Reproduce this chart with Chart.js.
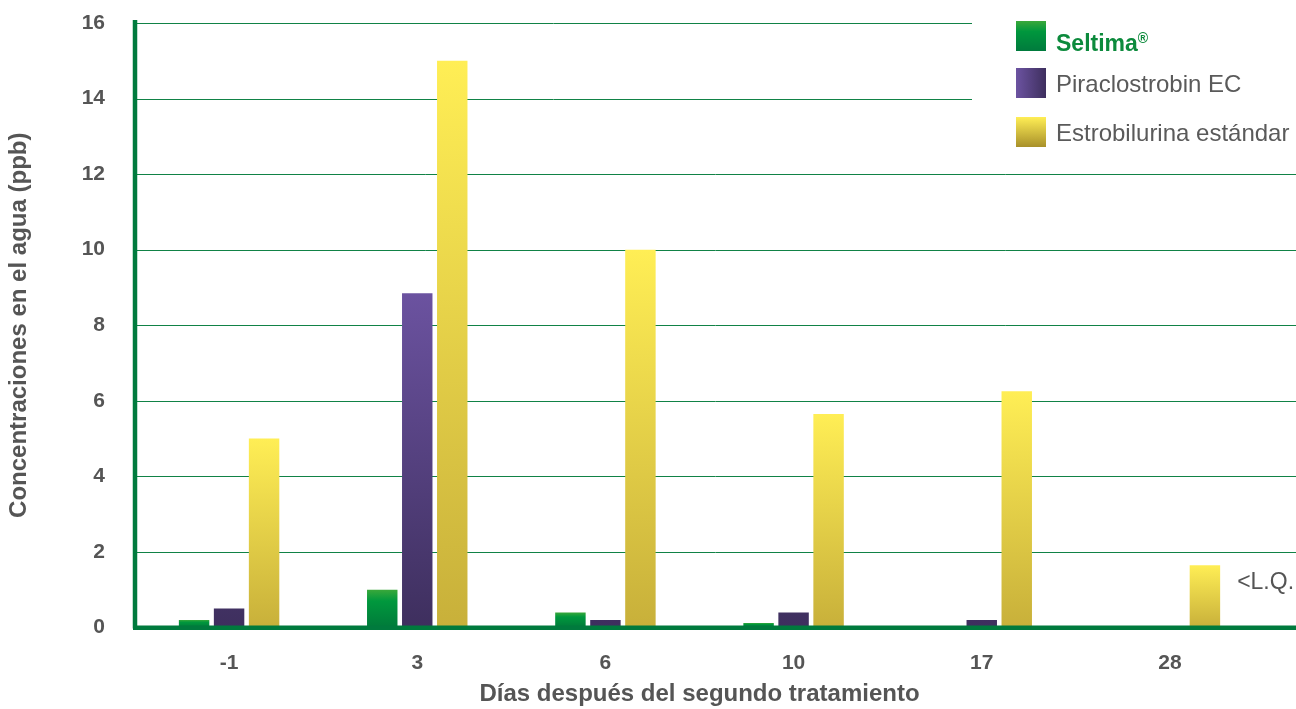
<!DOCTYPE html>
<html lang="es">
<head>
<meta charset="utf-8">
<title>Concentraciones en el agua</title>
<script src="https://cdn.jsdelivr.net/npm/chart.js@4"></script>
<style>
  html, body { margin: 0; padding: 0; background: #ffffff; }
  #wrap { position: relative; width: 1296px; height: 709px; overflow: hidden; }
  #wrap canvas { position: absolute; left: 0; top: 0; }
  .legend { position: absolute; left: 1016px; top: 21px; font-family: "Liberation Sans", Arial, sans-serif; }
  .legend .item { position: absolute; left: 0; white-space: nowrap; height: 31px; }
  .legend .sw { position: absolute; left: 0; top: 0; width: 30px; height: 30px; }
  .legend .tx { position: absolute; left: 40px; top: 1px; font-size: 24px; line-height: 30px; color: #5a5a5a; }
  .legend .tx.brand { color: #0c8a3c; font-weight: bold; font-size: 23px; }
  .legend .tx sup { font-size: 14px; position: relative; top: 1px; }
</style>
</head>
<body>
<div id="wrap">
  <canvas id="chart" width="1296" height="709"></canvas>
  <div class="legend">
    <div class="item" style="top:0px"><div class="sw" style="background:linear-gradient(to bottom,#3aa83a 0%,#00973d 35%,#007a3d 100%)"></div><div class="tx brand">Seltima<sup>®</sup></div></div>
    <div class="item" style="top:47px"><div class="sw" style="background:linear-gradient(to right,#6c53a1,#3e2f5e)"></div><div class="tx">Piraclostrobin EC</div></div>
    <div class="item" style="top:96px"><div class="sw" style="background:linear-gradient(to bottom,#ffee55,#a8902a)"></div><div class="tx">Estrobilurina estándar</div></div>
  </div>
</div>
<script>
// Días después del segundo tratamiento
const dias = ['-1', '3', '6', '10', '17', '28'];

// Concentraciones en el agua (ppb)
const seltima = [0.2, 1.0, 0.4, 0.12, null, null];
const piraclostrobin = [0.5, 8.85, 0.2, 0.4, 0.2, null];
const estrobilurina = [5.0, 15.0, 10.0, 5.65, 6.25, 1.65];

const yTicks = [0, 2, 4, 6, 8, 10, 12, 14, 16];

const FONT = '"Liberation Sans", Arial, sans-serif';
const AXIS_GREEN = '#007a3d';
const GRID_GREEN = '#118246';
const TEXT_GREY = '#555555';

// Vertical gradient spanning a single bar, from its top down to zero
function barGradient(stops) {
  return (ctx) => {
    const chart = ctx.chart;
    if (!chart.chartArea || ctx.type !== 'data' || ctx.raw == null) return stops[stops.length - 1][1];
    const y = chart.scales.y;
    const top = y.getPixelForValue(ctx.raw);
    const bottom = y.getPixelForValue(0);
    const g = chart.ctx.createLinearGradient(0, top, 0, bottom);
    stops.forEach(([p, c]) => g.addColorStop(p, c));
    return g;
  };
}

// Gradient laid over the whole value range (short bars stay dark)
function rangeGradient(from, to, cTop, cBottom) {
  return (ctx) => {
    const chart = ctx.chart;
    if (!chart.chartArea) return cBottom;
    const y = chart.scales.y;
    const g = chart.ctx.createLinearGradient(0, y.getPixelForValue(from), 0, y.getPixelForValue(to));
    g.addColorStop(0, cTop);
    g.addColorStop(1, cBottom);
    return g;
  };
}

// Horizontal grid lines, the axis lines and the note on the last group
const gridAndBase = {
  id: 'gridAndBase',
  beforeDatasetsDraw(chart) {
    const { ctx, chartArea, scales: { y } } = chart;
    ctx.save();
    ctx.strokeStyle = GRID_GREEN;
    ctx.lineWidth = 1;
    yTicks.forEach((v) => {
      if (v === 0) return;
      const py = Math.round(y.getPixelForValue(v)) + 0.5;
      const right = v >= 14 ? 972 : chart.width;
      ctx.beginPath();
      ctx.moveTo(chartArea.left, py);
      ctx.lineTo(right, py);
      ctx.stroke();
    });
    ctx.restore();
  },
  afterDatasetsDraw(chart) {
    const { ctx, chartArea, scales: { y } } = chart;
    ctx.save();
    const py = y.getPixelForValue(0);
    const pTop = y.getPixelForValue(16);
    ctx.fillStyle = AXIS_GREEN;
    // baseline, running to the right edge
    ctx.fillRect(chartArea.left - 2, py - 2, chart.width - chartArea.left + 2, 4.5);
    // value axis
    ctx.fillRect(chartArea.left - 2.25, pTop - 3, 4.5, py - pTop + 4);
    // note beside the last standard-strobilurin bar
    const bar = chart.getDatasetMeta(2).data[5];
    if (bar) {
      ctx.fillStyle = TEXT_GREY;
      ctx.font = '23px ' + FONT;
      ctx.textAlign = 'left';
      ctx.textBaseline = 'middle';
      ctx.fillText('<L.Q.', bar.x + bar.width / 2 + 17, y.getPixelForValue(1.2));
    }
    ctx.restore();
  }
};

new Chart(document.getElementById('chart'), {
  type: 'bar',
  data: {
    labels: dias,
    datasets: [
      {
        label: 'Seltima®',
        data: seltima,
        backgroundColor: barGradient([[0, '#3aa83a'], [0.3, '#00983d'], [1, '#007a3a']])
      },
      {
        label: 'Piraclostrobin EC',
        data: piraclostrobin,
        backgroundColor: rangeGradient(9, 0, '#6c53a1', '#3e2f5e')
      },
      {
        label: 'Estrobilurina estándar',
        data: estrobilurina,
        backgroundColor: barGradient([[0, '#ffee55'], [1, '#c8b03a']])
      }
    ]
  },
  plugins: [gridAndBase],
  options: {
    responsive: false,
    animation: false,
    categoryPercentage: 0.558,
    barPercentage: 0.87,
    layout: { padding: { top: 23, right: 32, bottom: 0, left: 0 } },
    plugins: {
      legend: { display: false },
      tooltip: { enabled: false }
    },
    scales: {
      x: {
        type: 'category',
        offset: true,
        grid: { display: false, drawTicks: false },
        border: { display: false },
        ticks: {
          color: TEXT_GREY,
          font: { family: FONT, size: 21, weight: 'bold' },
          padding: 23,
          maxRotation: 0
        },
        title: {
          display: true,
          text: 'Días después del segundo tratamiento',
          color: TEXT_GREY,
          font: { family: FONT, size: 24, weight: 'bold' },
          padding: { top: 0, bottom: 0 }
        },
        afterFit(scale) {
          scale.height = 81.5;
          scale.paddingLeft = 0;
          scale.paddingRight = 0;
        }
      },
      y: {
        min: 0,
        max: 16,
        grid: { display: false, drawTicks: false },
        border: { display: false },
        afterBuildTicks(scale) { scale.ticks = yTicks.map((v) => ({ value: v })); },
        ticks: {
          color: TEXT_GREY,
          font: { family: FONT, size: 21, weight: 'bold' },
          padding: 30
        },
        title: {
          display: true,
          text: 'Concentraciones en el agua (ppb)',
          color: TEXT_GREY,
          font: { family: FONT, size: 24, weight: 'bold' },
          padding: { top: 5, bottom: 0 }
        },
        afterFit(scale) {
          scale.width = 135;
          scale.paddingTop = 0;
          scale.paddingBottom = 0;
        }
      }
    }
  }
});
</script>
</body>
</html>
